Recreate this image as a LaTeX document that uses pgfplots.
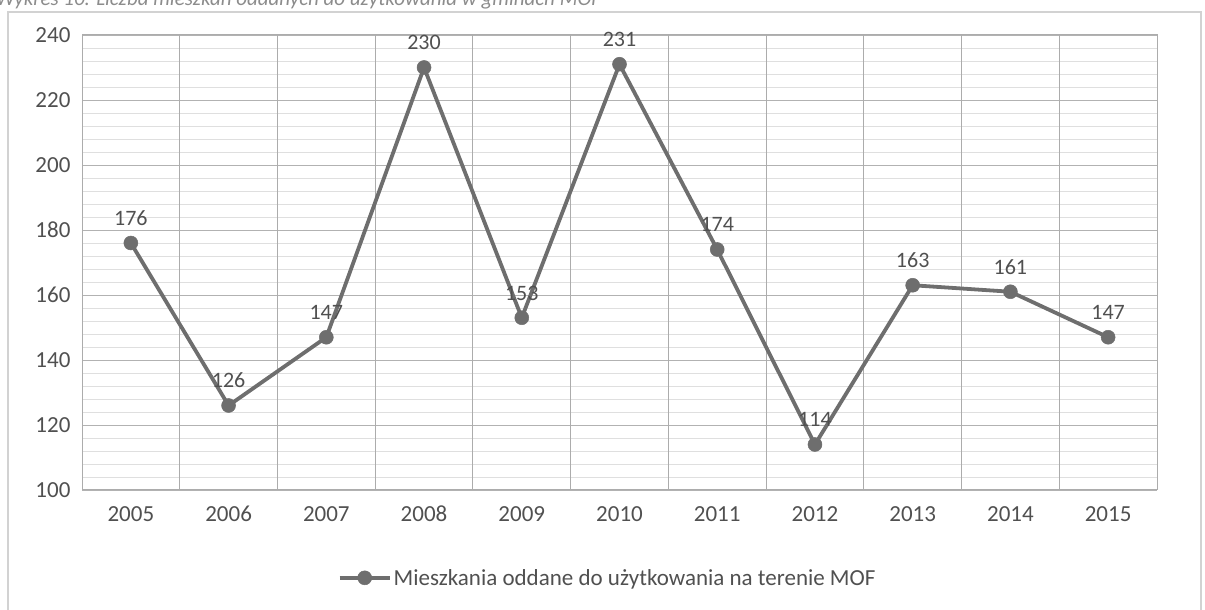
\documentclass[border=0pt]{standalone}
\usepackage{fontspec}
\setmainfont{Carlito}
\usepackage{pgfplots}
\pgfplotsset{compat=1.18}
\definecolor{linegray}{HTML}{6E6E6E}
\definecolor{txtgray}{HTML}{505050}
\begin{document}
\begin{tikzpicture}[x=1pt,y=1pt]
\useasboundingbox (0,0) rectangle (1205,610);
\draw[gray!35, line width=1.2pt] (8,-5) rectangle (1201,598);
\node[anchor=base west, font=\fontsize{21}{25}\selectfont\itshape, text=gray!90, inner sep=0pt] at (-4,604) {Wykres 10. Liczba mieszkań oddanych do użytkowania w gminach MOF};
\begin{axis}[
  at={(82pt,120pt)}, anchor=south west,
  scale only axis, width=1075pt, height=455pt,
  xmin=-0.5, xmax=10.5, ymin=100, ymax=240,
  xtick={0,...,10},
  xticklabels={2005,2006,2007,2008,2009,2010,2011,2012,2013,2014,2015},
  ytick={100,120,...,240},
  minor y tick num=4,
  ymajorgrids, yminorgrids,
  major grid style={gray!60, line width=0.9pt},
  minor grid style={gray!25, line width=0.8pt},
  extra x ticks={0.5,1.5,...,9.5},
  extra x tick labels={},
  extra x tick style={xmajorgrids=true, major grid style={gray!65, line width=1pt}},
  major tick length=0pt, minor tick length=0pt,
  axis line style={gray!65, line width=1pt},
  tick label style={font=\fontsize{23}{27}\selectfont, text=txtgray},
  /pgf/number format/assume math mode=true,
  yticklabel style={xshift=-8pt},
  xticklabel style={yshift=-13pt, text height=15pt, text depth=0pt},
  legend style={at={(0.489,-0.193)}, anchor=center, draw=none, fill=none,
    font=\fontsize{23}{27}\selectfont, text=txtgray},
  legend image code/.code={
    \draw[#1, mark repeat=2, mark phase=2] plot coordinates {(0pt,0pt) (25pt,0pt) (50pt,0pt)};
  },
  clip=false,
]
\addplot[color=linegray, line width=3.8pt, mark=*, mark size=7pt,
  mark options={fill=linegray, draw=linegray, line width=0.5pt},
  nodes near coords, every node near coord/.append style={font=\fontsize{22}{26}\selectfont, text=txtgray, anchor=south, yshift=14pt, text height=15pt, text depth=0pt},
  point meta=explicit symbolic]
  coordinates {
  (0,176) [176]
  (1,126) [126]
  (2,147) [147]
  (3,230) [230]
  (4,153) [153]
  (5,231) [231]
  (6,174) [174]
  (7,114) [114]
  (8,163) [163]
  (9,161) [161]
  (10,147) [147]
  };
\addlegendentry{Mieszkania oddane do użytkowania na terenie MOF}
\end{axis}
\end{tikzpicture}
\end{document}
